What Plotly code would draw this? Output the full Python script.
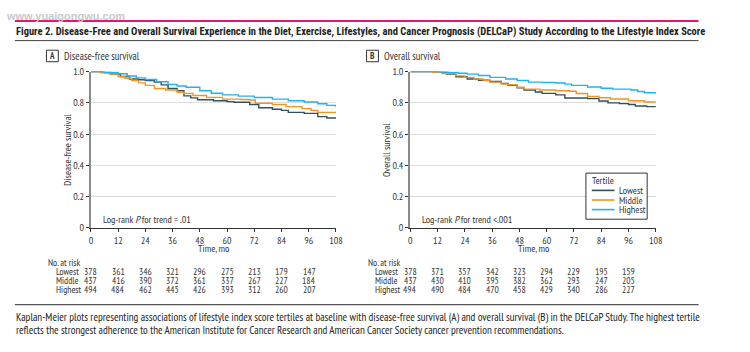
import plotly.graph_objects as go

# ---------------- data ----------------
tick_months = [0, 12, 24, 36, 48, 60, 72, 84, 96, 108]
y_ticks = [0, 0.2, 0.4, 0.6, 0.8, 1.0]
y_tick_text = ["0", "0.2", "0.4", "0.6", "0.8", "1.0"]
tertiles = ["Lowest", "Middle", "Highest"]

# Panel A: disease-free survival
A_low_t = [0, 5, 9, 13, 17, 21, 24, 28, 31, 34, 38, 41, 44, 47, 54, 60, 63, 70, 74, 80, 84, 87, 94, 100, 104, 108]
A_low_s = [1.0, 0.994, 0.985, 0.969, 0.953, 0.948, 0.943, 0.933, 0.915, 0.892, 0.878, 0.845, 0.832, 0.820, 0.814, 0.808, 0.804, 0.790, 0.769, 0.759, 0.752, 0.739, 0.733, 0.712, 0.703, 0.698]
A_mid_t = [0, 4, 8, 12, 15, 18, 21, 24, 28, 33, 38, 41, 45, 51, 58, 66, 70, 72.5, 80, 86, 93, 97, 100, 108]
A_mid_s = [1.0, 0.994, 0.985, 0.969, 0.958, 0.943, 0.928, 0.912, 0.892, 0.882, 0.868, 0.861, 0.847, 0.835, 0.824, 0.822, 0.818, 0.798, 0.790, 0.776, 0.763, 0.752, 0.739, 0.733]
A_high_t = [0, 6, 12, 16, 20, 24, 29, 34, 38, 42, 48, 53, 58, 65, 72, 80, 87, 94, 100, 104, 108]
A_high_s = [1.0, 0.994, 0.986, 0.972, 0.960, 0.950, 0.935, 0.918, 0.908, 0.900, 0.878, 0.862, 0.851, 0.843, 0.834, 0.824, 0.814, 0.806, 0.794, 0.784, 0.773]

# Panel B: overall survival
B_low_t = [0, 12, 16, 20, 25, 30, 35, 40, 43, 47, 50, 55, 58, 64, 68, 78, 83, 87, 92, 96, 99, 104, 108]
B_low_s = [1.0, 0.996, 0.984, 0.967, 0.953, 0.945, 0.937, 0.925, 0.912, 0.896, 0.882, 0.870, 0.861, 0.851, 0.831, 0.827, 0.812, 0.800, 0.795, 0.790, 0.780, 0.776, 0.773]
B_mid_t = [0, 10, 14, 20, 24, 28, 32, 35, 40, 43, 47, 50, 57, 64, 70, 73, 78, 83, 88, 96, 103, 108]
B_mid_s = [1.0, 0.996, 0.988, 0.973, 0.963, 0.953, 0.943, 0.933, 0.921, 0.916, 0.900, 0.888, 0.882, 0.878, 0.874, 0.860, 0.841, 0.833, 0.825, 0.814, 0.806, 0.802]
B_high_t = [0, 13, 17, 21, 25, 30, 35, 42, 47, 52, 58, 64, 68, 71, 78, 84, 89, 97, 100, 103, 108]
B_high_s = [1.0, 0.998, 0.994, 0.990, 0.984, 0.975, 0.963, 0.953, 0.943, 0.933, 0.930, 0.927, 0.920, 0.912, 0.902, 0.894, 0.888, 0.882, 0.873, 0.865, 0.855]

risk_months = [0, 12, 24, 36, 48, 60, 72, 84, 96]
A_risk_low = [378, 361, 346, 321, 296, 275, 213, 179, 147]
A_risk_mid = [437, 416, 390, 372, 361, 337, 267, 227, 184]
A_risk_high = [494, 484, 462, 445, 426, 393, 312, 260, 207]
B_risk_low = [378, 371, 357, 342, 323, 294, 229, 195, 159]
B_risk_mid = [437, 430, 410, 395, 382, 362, 293, 247, 205]
B_risk_high = [494, 490, 484, 470, 458, 429, 340, 286, 227]

# ---------------- style ----------------
W, H = 750, 352
FONT = "PT Sans Narrow, Roboto Condensed, Liberation Sans, sans-serif"
TITLE_FONT = "Roboto Condensed, PT Sans Narrow, Liberation Sans, sans-serif"
C_LOW, C_MID, C_HIGH = "#34505c", "#f39323", "#22b2ec"
TXT = "#333333"

def px(x):
    return x / W

def py(y):
    return 1 - y / H

fig = go.Figure()

panels = [
    ("x", "y", [(A_low_t, A_low_s, C_LOW), (A_mid_t, A_mid_s, C_MID), (A_high_t, A_high_s, C_HIGH)]),
    ("x2", "y2", [(B_low_t, B_low_s, C_LOW), (B_mid_t, B_mid_s, C_MID), (B_high_t, B_high_s, C_HIGH)]),
]
for xa, ya, curves in panels:
    for (t, s, c), name in zip(curves, tertiles):
        fig.add_trace(go.Scatter(x=t, y=s, mode="lines", line=dict(color=c, width=1.4, shape="hv"),
                                 name=name, xaxis=xa, yaxis=ya, showlegend=False, cliponaxis=False))

y_dom = [py(230), py(67.3)]
common_x = dict(range=[0, 108], tickvals=tick_months, ticks="outside", ticklen=3, tickcolor="#333",
                showline=True, linecolor="#333", linewidth=1, showgrid=False, zeroline=False,
                tickfont=dict(family=FONT, size=10, color=TXT))
common_y = dict(range=[0, 1], tickvals=y_ticks, ticktext=y_tick_text, ticks="outside", ticklen=3,
                tickcolor="#333", showline=True, linecolor="#8a8a8a", linewidth=2, showgrid=True,
                gridcolor="#dcdcdc", gridwidth=1, zeroline=False,
                tickfont=dict(family=FONT, size=10, color=TXT))

fig.update_layout(
    width=W, height=H, margin=dict(l=0, r=0, t=0, b=0),
    paper_bgcolor="white", plot_bgcolor="white", showlegend=False,
    xaxis=dict(domain=[px(90), px(338)], anchor="y", **common_x),
    yaxis=dict(domain=y_dom, anchor="x", **common_y),
    xaxis2=dict(domain=[px(413.3), px(661.7)], anchor="y2", **common_x),
    yaxis2=dict(domain=y_dom, anchor="x2", **common_y),
)

ann = []
shapes = []

def text(x, y, s, size=10, xanchor="left", color=TXT, angle=0, family=FONT):
    ann.append(dict(x=px(x), y=py(y), xref="paper", yref="paper", text=s, showarrow=False,
                    xanchor=xanchor, yanchor="middle", textangle=angle, borderpad=0,
                    font=dict(family=family, size=size, color=color)))

# header
text(3, 9, "<b>www.yuaigongwu.com</b>", size=11, color="#c8c8c8", family="Liberation Sans, sans-serif")
shapes.append(dict(type="line", xref="paper", yref="paper", x0=px(13), x1=px(705), y0=py(14.5), y1=py(14.5),
                   line=dict(color="#e5157a", width=2)))
text(13, 25, "<b>Figure 2. Disease-Free and Overall Survival Experience in the Diet, Exercise, Lifestyles, and Cancer Prognosis (DELCaP) Study According to the Lifestyle Index Score</b>",
     size=10.5, color="#222", family=TITLE_FONT)
shapes.append(dict(type="line", xref="paper", yref="paper", x0=px(13), x1=px(705), y0=py(35), y1=py(35),
                   line=dict(color="#444", width=1)))

# panel labels
for bx, label, title in [(45, "A", "Disease-free survival"), (369, "B", "Overall survival")]:
    shapes.append(dict(type="rect", xref="paper", yref="paper", x0=px(bx), x1=px(bx + 12), y0=py(57), y1=py(45),
                       line=dict(color="#333", width=1)))
    text(bx + 6, 51, "<b>" + label + "</b>", size=9, xanchor="center")
    text(bx + 17, 51, title, size=10.5)

# axis titles and log-rank text
text(66, 148.6, "Disease-free survival", size=10, xanchor="center", angle=-90)
text(389, 148.6, "Overall survival", size=10, xanchor="center", angle=-90)
text(214, 252, "Time, mo", size=10, xanchor="center")
text(537.5, 252, "Time, mo", size=10, xanchor="center")
text(101, 221, "Log-rank <i>P</i> for trend = .01", size=10)
text(424, 221, "Log-rank <i>P</i> for trend &lt;.001", size=10)

# legend (panel B)
shapes.append(dict(type="rect", xref="paper", yref="paper", x0=px(591), x1=px(653), y0=py(221), y1=py(173),
                   line=dict(color="#333", width=1), fillcolor="white"))
text(596, 181, "Tertile", size=10)
for i, (name, c) in enumerate(zip(tertiles, [C_LOW, C_MID, C_HIGH])):
    yy = 191 + i * 10
    shapes.append(dict(type="line", xref="paper", yref="paper", x0=px(597), x1=px(620), y0=py(yy), y1=py(yy),
                       line=dict(color=c, width=1.6)))
    text(623, yy, name, size=10)

# number at risk tables
for x0axis, lab_x, no_x, rows in [
    (90, 54, 46, [A_risk_low, A_risk_mid, A_risk_high]),
    (413.3, 377, 369, [B_risk_low, B_risk_mid, B_risk_high]),
]:
    text(no_x, 266, "No. at risk", size=9.5)
    for r, (name, vals) in enumerate(zip(tertiles, rows)):
        yy = 275.3 + r * 9.3
        text(lab_x, yy, name, size=9.5)
        for m, v in zip(risk_months, vals):
            text(x0axis + m * 248.4 / 108, yy, str(v), size=9.5, xanchor="center")

# footer
shapes.append(dict(type="line", xref="paper", yref="paper", x0=px(13), x1=px(705), y0=py(310), y1=py(310),
                   line=dict(color="#555", width=1.2)))
text(13, 322.5, "Kaplan-Meier plots representing associations of lifestyle index score tertiles at baseline with disease-free survival (A) and overall survival (B) in the DELCaP Study. The highest tertile",
     size=11, color="#222")
text(13, 336, "reflects the strongest adherence to the American Institute for Cancer Research and American Cancer Society cancer prevention recommendations.",
     size=11, color="#222")

fig.update_layout(annotations=ann, shapes=shapes)
fig.write_html("out.html")
